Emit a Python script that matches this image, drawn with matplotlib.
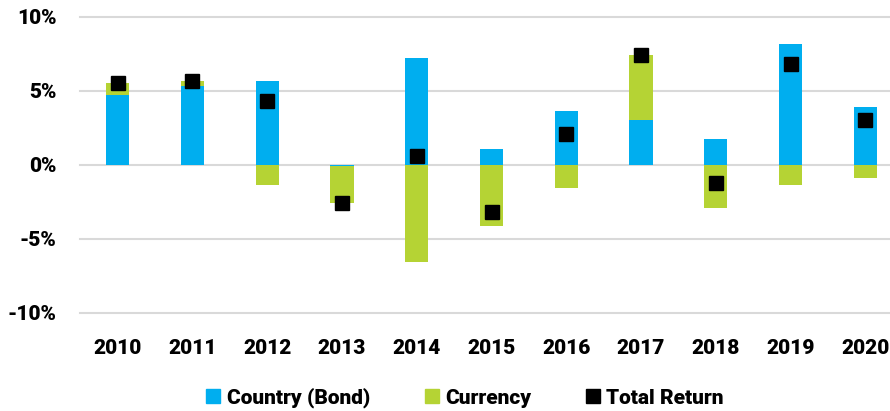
import matplotlib
matplotlib.use("Agg")
import matplotlib.pyplot as plt
from matplotlib.lines import Line2D
import numpy as np

years = ["2010", "2011", "2012", "2013", "2014", "2015", "2016", "2017", "2018", "2019", "2020"]
country = [4.7, 5.3, 5.65, -0.1, 7.25, 1.05, 3.65, 3.0, 1.75, 8.15, 3.9]
currency = [0.85, 0.35, -1.35, -2.5, -6.6, -4.15, -1.55, 4.4, -2.95, -1.35, -0.9]
total = [5.55, 5.65, 4.3, -2.6, 0.6, -3.2, 2.1, 7.4, -1.2, 6.8, 3.0]
yticks = [10, 5, 0, -5, -10]
ytick_labels = ["10%", "5%", "0%", "-5%", "-10%"]

BLUE = "#00AEEF"
GREEN = "#B5D334"
FONT = ["Roboto", "DejaVu Sans"]
WEIGHT = "heavy"

fig = plt.figure(figsize=(8.9, 4.11), dpi=100)
ax = fig.add_axes([80/890, 1-312.7/411, 1-80/890, (312.7-17)/411])

x = np.arange(len(years))
w = 0.31
country = np.array(country)
currency = np.array(currency)
cur_bottom = np.where(np.sign(currency) == np.sign(country), country, 0.0)
ax.bar(x, country, width=w, color=BLUE, zorder=2)
ax.bar(x, currency, bottom=cur_bottom, width=w, color=GREEN, zorder=2)
ax.plot(x, total, linestyle="none", marker="s", markersize=10, color="black", zorder=3)

for t in yticks:
    ax.axhline(t, color="#d9d9d9", linewidth=1.5, zorder=1, clip_on=False)

ax.set_ylim(-10, 10)
ax.set_xlim(-0.504, 10.33)
ax.set_yticks(yticks)
ax.set_yticklabels(ytick_labels)
ax.set_xticks(x)
ax.set_xticklabels(years)
for s in ax.spines.values():
    s.set_visible(False)
ax.tick_params(axis="both", length=0, labelsize=15)
ax.tick_params(axis="y", pad=17)
ax.tick_params(axis="x", pad=19)
for lab in ax.get_xticklabels() + ax.get_yticklabels():
    lab.set_fontweight(WEIGHT)
    lab.set_family(FONT)

handles = [
    Line2D([], [], linestyle="none", marker="s", markersize=10.5, color=BLUE),
    Line2D([], [], linestyle="none", marker="s", markersize=10.5, color=GREEN),
    Line2D([], [], linestyle="none", marker="s", markersize=10.5, color="black"),
]
fig.legend(handles, ["Country (Bond)", "Currency", "Total Return"],
           loc="center", bbox_to_anchor=(465/890, 1-398/411), ncol=3,
           frameon=False, handlelength=0.7, handletextpad=0.3, columnspacing=2.6,
           prop={"family": FONT, "weight": WEIGHT, "size": 15})

fig.savefig("out.png", dpi=100)
